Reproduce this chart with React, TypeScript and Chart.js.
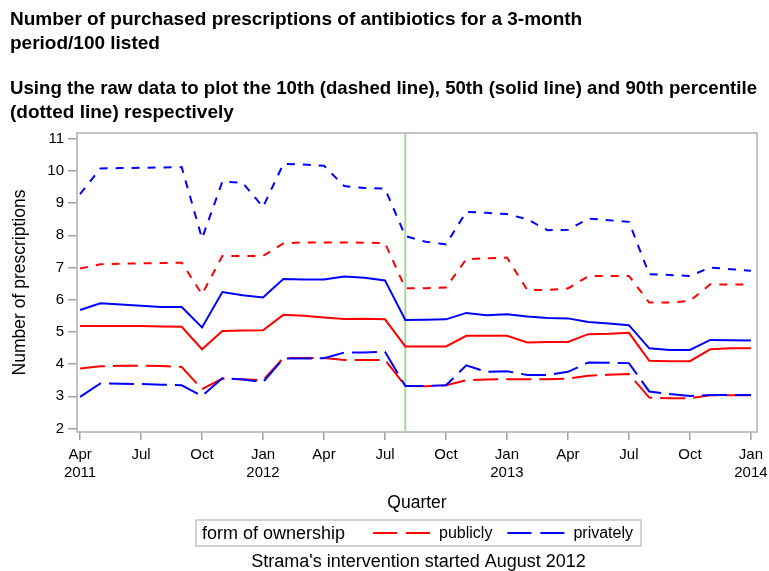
import React, { useEffect, useRef } from "react";
import { Chart, registerables } from "chart.js";

Chart.register(...registerables);

const FONT = "'Liberation Sans', Arial, Helvetica, sans-serif";

// Month index 0 = Apr 2011 ... 33 = Jan 2014
const monthIndex = Array.from({ length: 34 }, (_, i) => i);
const quarterTicks = [0, 3, 6, 9, 12, 15, 18, 21, 24, 27, 30, 33];
const quarterLabels: (string | string[])[] = [
  ["Apr", "2011"], "Jul", "Oct", ["Jan", "2012"], "Apr", "Jul", "Oct",
  ["Jan", "2013"], "Apr", "Jul", "Oct", ["Jan", "2014"],
];
const yTicks = [2, 3, 4, 5, 6, 7, 8, 9, 10, 11];
const interventionIndex = 16; // August 2012

const titleLines = [
  "Number of purchased prescriptions of antibiotics for a 3-month",
  "period/100 listed",
];
const subtitleLines = [
  "Using the raw data to plot the 10th (dashed line), 50th (solid line) and 90th percentile",
  "(dotted line) respectively",
];
const footerText = "Strama's intervention started August 2012";
const legendTitle = "form of ownership";
const seriesNames = ["publicly", "privately"];

// 90th percentile (dotted)
const private90 = [9.28, 10.08, 10.09, 10.1, 10.11, 10.12, 7.9, 9.67, 9.63, 8.88, 10.22, 10.2, 10.16, 9.53, 9.47, 9.45, 7.98, 7.8, 7.72, 8.73, 8.7, 8.66, 8.5, 8.16, 8.17, 8.52, 8.47, 8.42, 6.79, 6.77, 6.74, 7.0, 6.95, 6.9];
const public90 = [6.97, 7.1, 7.12, 7.13, 7.14, 7.15, 6.17, 7.36, 7.36, 7.36, 7.75, 7.78, 7.78, 7.78, 7.77, 7.76, 6.36, 6.36, 6.38, 7.26, 7.29, 7.31, 6.3, 6.3, 6.35, 6.73, 6.74, 6.74, 5.91, 5.91, 5.96, 6.48, 6.47, 6.48];
// 50th percentile (solid)
const private50 = [5.68, 5.89, 5.85, 5.81, 5.77, 5.77, 5.14, 6.24, 6.14, 6.07, 6.64, 6.63, 6.63, 6.72, 6.68, 6.6, 5.37, 5.38, 5.39, 5.59, 5.52, 5.55, 5.48, 5.43, 5.42, 5.31, 5.26, 5.21, 4.49, 4.44, 4.44, 4.75, 4.74, 4.73];
const public50 = [5.18, 5.18, 5.18, 5.18, 5.17, 5.16, 4.46, 5.03, 5.04, 5.05, 5.53, 5.5, 5.45, 5.4, 5.41, 5.39, 4.55, 4.55, 4.55, 4.88, 4.88, 4.88, 4.67, 4.69, 4.69, 4.93, 4.94, 4.97, 4.1, 4.09, 4.09, 4.46, 4.49, 4.49];
// 10th percentile (dashed)
const private10 = [2.98, 3.4, 3.39, 3.38, 3.36, 3.34, 3.01, 3.56, 3.52, 3.44, 4.17, 4.17, 4.18, 4.36, 4.36, 4.38, 3.32, 3.32, 3.34, 3.96, 3.76, 3.78, 3.66, 3.66, 3.76, 4.05, 4.04, 4.03, 3.15, 3.07, 3.01, 3.04, 3.04, 3.04];
const public10 = [3.86, 3.93, 3.95, 3.95, 3.94, 3.91, 3.22, 3.55, 3.53, 3.5, 4.19, 4.19, 4.19, 4.13, 4.13, 4.13, 3.32, 3.31, 3.34, 3.5, 3.52, 3.53, 3.53, 3.53, 3.55, 3.64, 3.67, 3.69, 2.96, 2.94, 2.94, 3.03, 3.03, 3.03];

const RED = "#ff0000";
const BLUE = "#0000ff";
const DASH = [25, 8];
const DOT = [8, 8];

const toPts = (vals: number[]) => vals.map((v, i) => ({ x: monthIndex[i], y: v }));

const ds = (label: string, vals: number[], color: string, dash: number[]) => ({
  label,
  data: toPts(vals),
  borderColor: color,
  backgroundColor: color,
  borderWidth: 2,
  borderDash: dash,
  pointRadius: 0,
  fill: false,
  tension: 0,
});

const framePlugin = {
  id: "framePlugin",
  beforeDatasetsDraw(chart: any) {
    const { ctx, chartArea: a, scales } = chart;
    ctx.save();
    const xv = scales.x.getPixelForValue(interventionIndex);
    ctx.strokeStyle = "#a8d5a0";
    ctx.lineWidth = 2;
    ctx.beginPath();
    ctx.moveTo(xv, a.top);
    ctx.lineTo(xv, a.bottom);
    ctx.stroke();
    ctx.strokeStyle = "#b0b0b0";
    ctx.lineWidth = 1.5;
    ctx.strokeRect(a.left, a.top, a.right - a.left, a.bottom - a.top);
    ctx.restore();
  },
  afterDraw(chart: any) {
    const { ctx, chartArea: a } = chart;
    ctx.save();
    ctx.textBaseline = "middle";
    ctx.textAlign = "left";
    ctx.fillStyle = "#000";
    const titleFont = `18px ${FONT}`;
    const itemFont = `16px ${FONT}`;
    ctx.font = titleFont;
    const w1 = ctx.measureText(legendTitle).width;
    ctx.font = itemFont;
    const w2 = ctx.measureText(seriesNames[0]).width;
    const w3 = ctx.measureText(seriesNames[1]).width;
    const sample = 57;
    const total = 6 + w1 + 28 + sample + 9 + w2 + 15 + sample + 9 + w3 + 8;
    const cx = (a.left + a.right) / 2 + 1.5;
    const bx = cx - total / 2;
    const by = 520;
    const bh = 26;
    ctx.strokeStyle = "#c4c4c4";
    ctx.lineWidth = 1.5;
    ctx.strokeRect(bx, by, total, bh);
    const ty = by + bh / 2 + 1;
    let x = bx + 6;
    ctx.font = titleFont;
    ctx.fillText(legendTitle, x, ty);
    x += w1 + 28;
    const drawSample = (color: string) => {
      ctx.save();
      ctx.strokeStyle = color;
      ctx.lineWidth = 2;
      ctx.setLineDash([24, 9]);
      ctx.beginPath();
      ctx.moveTo(x, ty - 1);
      ctx.lineTo(x + sample, ty - 1);
      ctx.stroke();
      ctx.restore();
    };
    ctx.font = itemFont;
    drawSample(RED);
    x += sample + 9;
    ctx.fillText(seriesNames[0], x, ty);
    x += w2 + 15;
    drawSample(BLUE);
    x += sample + 9;
    ctx.fillText(seriesNames[1], x, ty);
    ctx.font = titleFont;
    ctx.textAlign = "center";
    ctx.fillText(footerText, cx, 562);
    ctx.restore();
  },
};

export default function App() {
  const ref = useRef<HTMLCanvasElement | null>(null);
  useEffect(() => {
    if (!ref.current) return;
    Chart.defaults.font.family = FONT;
    const chart = new Chart(ref.current, {
      type: "line",
      data: {
        datasets: [
          ds("privately 90th", private90, BLUE, DOT),
          ds("privately 50th", private50, BLUE, []),
          ds("privately 10th", private10, BLUE, DASH),
          ds("publicly 90th", public90, RED, DOT),
          ds("publicly 50th", public50, RED, []),
          ds("publicly 10th", public10, RED, DASH),
        ],
      },
      options: {
        animation: false,
        responsive: false,
        maintainAspectRatio: false,
        layout: { padding: { left: 10, right: 12, top: 0, bottom: 57 } },
        plugins: {
          legend: { display: false },
          tooltip: { enabled: false },
          title: {
            display: true,
            text: titleLines,
            align: "start",
            color: "#000",
            font: { size: 19, weight: "bold", family: FONT, lineHeight: 24 / 19 },
            padding: { top: 8, bottom: 0 },
          },
          subtitle: {
            display: true,
            text: subtitleLines,
            align: "start",
            color: "#000",
            font: { size: 19, weight: "bold", family: FONT, lineHeight: 24 / 19 },
            padding: { top: 21, bottom: 8 },
          },
        },
        scales: {
          x: {
            type: "linear",
            min: -0.15,
            max: 33.3,
            afterBuildTicks: (s: any) => {
              s.ticks = quarterTicks.map((v) => ({ value: v }));
            },
            afterFit: (s: any) => {
              s.height = 82;
              s.paddingLeft = 0;
              s.paddingRight = 0;
            },
            ticks: {
              autoSkip: false,
              maxRotation: 0,
              padding: 6,
              color: "#000",
              font: { size: 15, family: FONT, lineHeight: 1.2 },
              callback: (_v: any, i: number) => quarterLabels[i],
            },
            grid: {
              drawOnChartArea: false,
              drawTicks: true,
              tickLength: 8,
              color: "#a0a0a0",
              lineWidth: 1.5,
            },
            border: { display: false },
            title: {
              display: true,
              text: "Quarter",
              color: "#000",
              font: { size: 17.5, family: FONT, lineHeight: 1.2 },
              padding: { top: 0, bottom: 0 },
            },
          },
          y: {
            type: "linear",
            min: 1.89,
            max: 11.18,
            afterBuildTicks: (s: any) => {
              s.ticks = yTicks.map((v) => ({ value: v }));
            },
            afterFit: (s: any) => {
              s.width = 67;
            },
            ticks: {
              padding: 4,
              color: "#000",
              font: { size: 15, family: FONT },
              callback: (v: any) => String(v),
            },
            grid: {
              drawOnChartArea: false,
              drawTicks: true,
              tickLength: 9,
              color: "#a0a0a0",
              lineWidth: 1.5,
            },
            border: { display: false },
            title: {
              display: true,
              text: "Number of prescriptions",
              color: "#000",
              font: { size: 17.5, family: FONT, lineHeight: 1.2 },
              padding: { top: 0, bottom: 0 },
            },
          },
        },
      },
      plugins: [framePlugin],
    } as any);
    return () => chart.destroy();
  }, []);
  return (
    <div style={{ position: "fixed", left: 0, top: 0, width: 769, height: 571, background: "#fff" }}>
      <canvas ref={ref} width={769} height={571} style={{ display: "block" }} />
    </div>
  );
}
